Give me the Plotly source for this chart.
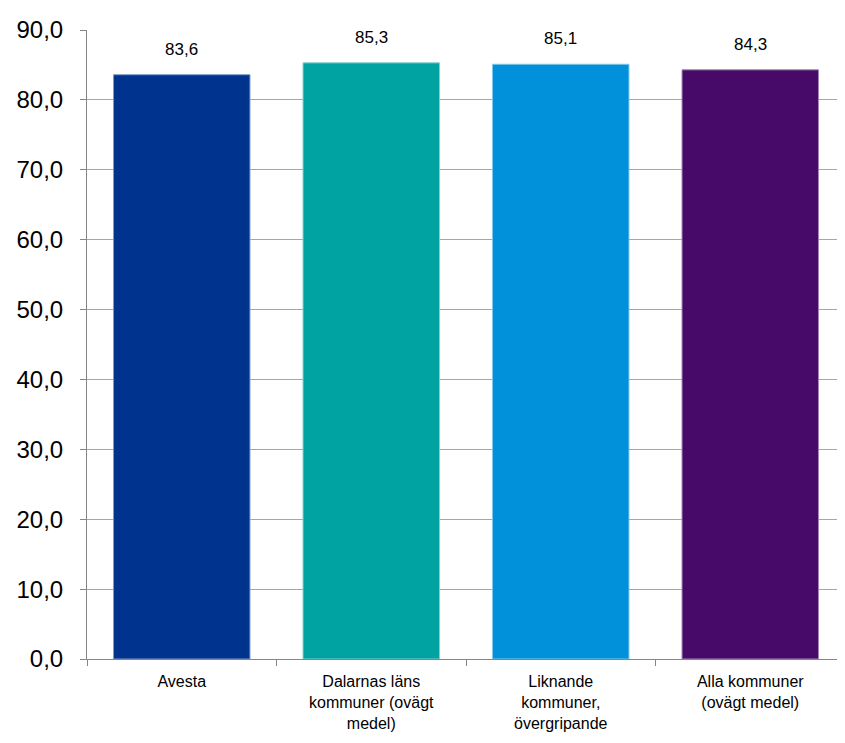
import plotly.graph_objects as go

categories = ["Avesta", "Dalarnas läns<br>kommuner (ovägt<br>medel)", "Liknande<br>kommuner,<br>övergripande", "Alla kommuner<br>(ovägt medel)"]
values = [83.6, 85.3, 85.1, 84.3]
labels = ["83,6", "85,3", "85,1", "84,3"]
colors = ["#00338D", "#00A3A1", "#0091DA", "#470A68"]
edge_colors = ["#7f99c6", "#7fd1d0", "#7fc8ec", "#a385b4"]
y_ticks = [0, 10, 20, 30, 40, 50, 60, 70, 80, 90]
y_tick_text = ["0,0", "10,0", "20,0", "30,0", "40,0", "50,0", "60,0", "70,0", "80,0", "90,0"]

fig = go.Figure()
fig.add_trace(go.Bar(
    x=categories, y=values,
    marker=dict(color=colors, line=dict(color=edge_colors, width=1)),
    hoverinfo="skip",
))
for c, v, t in zip(categories, values, labels):
    fig.add_annotation(x=c, y=v, text=t, showarrow=False, yanchor="bottom", yshift=14,
                       font=dict(family="Liberation Sans, Arial", size=17, color="#000"))

fig.update_layout(
    width=845, height=743,
    margin=dict(l=79, r=8, t=15, b=92),
    paper_bgcolor="white", plot_bgcolor="white",
    bargap=0.28, showlegend=False,
    font=dict(family="Liberation Sans, Arial", color="#000"),
)
fig.update_yaxes(
    range=[0, 90], tickvals=y_ticks, ticktext=y_tick_text,
    showgrid=True, gridcolor="#a6a6a6", gridwidth=1,
    showline=True, linecolor="#868686", linewidth=1,
    ticks="outside", ticklen=6, tickcolor="#868686",
    tickfont=dict(size=24, family="Liberation Sans, Arial", color="#000"),
    ticklabelstandoff=12, zeroline=False,
)
fig.update_xaxes(
    showline=True, linecolor="#868686", linewidth=1,
    ticks="outside", ticklen=6, tickcolor="#868686", tickson="boundaries",
    tickfont=dict(size=16, family="Liberation Sans, Arial", color="#000"),
    ticklabelstandoff=8,
)

fig.write_html("out.html")
